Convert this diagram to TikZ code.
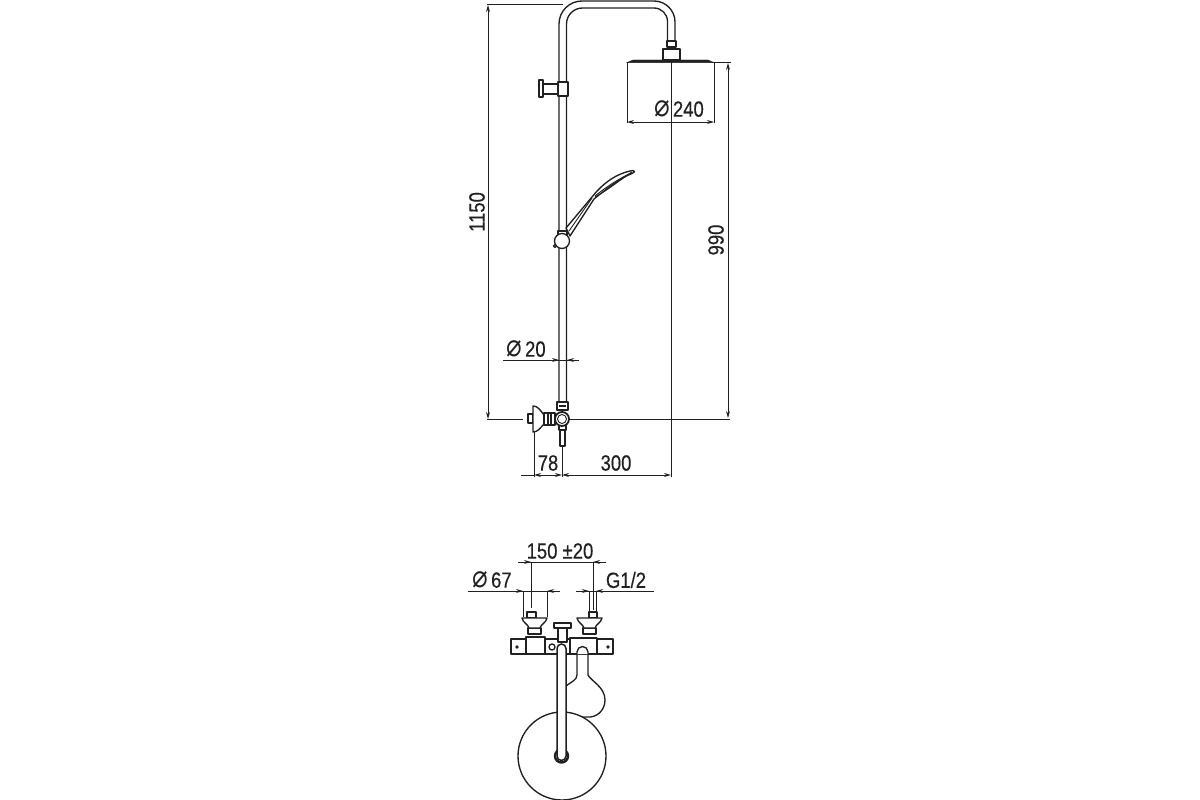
\documentclass[tikz,border=0pt]{standalone}
\usepackage{fontspec}
\setmainfont{Liberation Sans}
\newfontfamily\symfont{DejaVu Sans}
\newfontfamily\labfont{Liberation Sans}[FakeBold=0.35]
\usetikzlibrary{arrows.meta}
\definecolor{ink}{gray}{0.13}
\newcommand{\dia}{{\symfont\fontsize{31}{31}\selectfont ⌀}}
\tikzset{
  part/.style={draw=ink,line width=1.35pt,line join=round,fill=white},
  open/.style={draw=ink,line width=1.35pt,line join=round},
  dim/.style={draw=ink,line width=1pt},
  tip/.style={-{Stealth[length=7pt,width=4pt]}},
  arr/.style={dim,{Stealth[length=7pt,width=4pt]}-{Stealth[length=7pt,width=4pt]}},
  lab/.style={text=ink,font=\labfont\fontsize{22}{22}\selectfont,xscale=.84,inner sep=0pt,anchor=center},
  rlab/.style={text=ink,font=\labfont\fontsize{22}{22}\selectfont,yscale=.84,inner sep=0pt,rotate=90,anchor=center}
}
\begin{document}
\begin{tikzpicture}[x=1pt,y=-1pt]
\useasboundingbox (0,0) rectangle (1200,800);
\fill[white] (0,0) rectangle (1200,800);
% ---- dimension lines, upper view
\draw[dim] (487,5) -- (563,5);
\draw[arr] (488,5) -- (488,419);
\draw[dim] (487,419) -- (523,419);
\draw[dim] (570,419) -- (730,419);
\draw[dim] (714,63) -- (731,63);
\draw[arr] (728,63) -- (728,418);
\draw[dim] (671,62) -- (671,477);
\draw[dim] (627,63) -- (627,123);
\draw[dim] (714,63) -- (714,123);
\draw[arr] (627,122) -- (714,122);
\draw[dim] (503,360) -- (579,360);
\draw[dim,tip] (548,360) -- (559,360);
\draw[dim,tip] (578,360) -- (567,360);
\draw[dim] (534,432) -- (534,477);
\draw[dim] (562,446) -- (562,477);
\draw[dim] (521,475) -- (534,475);
\draw[arr] (534,475) -- (562,475);
\draw[arr] (562,475) -- (671,475);
% ---- column
\draw[open] (559,402) -- (559,24) arc[start angle=180,end angle=270,radius=23] -- (654,1) arc[start angle=270,end angle=360,radius=21] -- (675,41);
\draw[open] (566.5,402) -- (566.5,24) arc[start angle=180,end angle=270,radius=16] -- (654,8) arc[start angle=270,end angle=360,radius=13.5] -- (667.5,41);
% ---- overhead shower
\draw[part] (667,41) rectangle (676,47);
\draw[part] (663,49) rectangle (680,60);
\draw[draw=ink,fill=ink] (633,60) -- (708,60) -- (714,62.6) -- (627,62.6) -- cycle;
% ---- wall bracket with knob
\draw[part] (543,84) rectangle (558,94);
\draw[part] (539,80) rectangle (543,97);
\draw[part] (558,82) rectangle (568,96);
% ---- hand shower on the column
\draw[part] (566,228) -- (592,197) .. controls (603,183) and (617,173) .. (633,170.5) .. controls (635,171) and (635,172) .. (633,173) .. controls (620,178) and (605,190) .. (594,199) -- (570,236) -- cycle;
\draw[open,line width=.9pt] (569,231) -- (592,198);
\draw[open,line width=.9pt] (595,197) .. controls (608,190) and (620,180) .. (632,172);
\draw[open,line width=.9pt] (595,196) .. controls (606,187) and (620,178) .. (632,172.5);
\draw[part] (558,231) rectangle (567,236);
\draw[part] (562,241) circle[radius=7.5];
\draw[part] (555,246) circle[radius=1.5];
% ---- mixer, side view
\draw[part] (528,414) rectangle (533,423);
\draw[part] (533,406) .. controls (538,406) and (540,410) .. (544,415) -- (544,424) .. controls (540,428) and (538,432) .. (533,432) -- cycle;
\draw[part] (544,413) rectangle (555,425);
\draw[open] (548,413) -- (548,425) (551,413) -- (551,425);
\draw[part] (557,402) rectangle (568,410);
\draw[open] (559,406) -- (566,406);
\draw[part] (559,425) rectangle (566,430);
\draw[part] (560,430) rectangle (565,446);
\draw[part,line width=1.8pt] (562,419) circle[radius=7];
\draw[open,line width=.9pt] (562,419) circle[radius=4.5];
% ---- dimension lines, lower view
\draw[dim] (518,562) -- (606,562);
\draw[dim,tip] (519,562) -- (531,562);
\draw[dim,tip] (605,562) -- (593,562);
\draw[dim] (531,562) -- (531,608);
\draw[dim] (593,562) -- (593,610);
\draw[dim] (468,591) -- (560,591);
\draw[dim,tip] (513,591) -- (523,591);
\draw[dim,tip] (557,591) -- (547,591);
\draw[dim] (523,591) -- (523,617);
\draw[dim] (547,591) -- (547,617);
\draw[dim] (576,591) -- (654,591);
\draw[dim,tip] (579,591) -- (589,591);
\draw[dim,tip] (606,591) -- (596,591);
\draw[dim] (589,591) -- (589,613);
\draw[dim] (596,591) -- (596,613);
% ---- bulb of the hand shower, behind
\draw[part] (577,654) -- (577,652) arc[start angle=180,end angle=360,radius=5.5] -- (588,675) .. controls (591,681) and (605,687) .. (605,700) .. controls (605,711) and (596,718) .. (587,717) -- (566,717) -- (566,686) .. controls (571,682) and (577,680) .. (577,675) -- cycle;
% ---- rosette
\draw[part] (562,756) circle[radius=44];
% ---- valve block
\draw[part] (511,639) rectangle (526,654);
\draw[part] (526,637) rectangle (545,654);
\draw[part] (545,639) rectangle (570,654);
\draw[part] (570,638) rectangle (597,654);
\draw[part] (597,639) rectangle (613,654);
\fill[ink] (517,647) circle[radius=1.8] (608,647) circle[radius=1.8];
\draw[open] (552,647) circle[radius=3];
% ---- hand-shower neck over the block
\draw[part] (577,654) -- (577,652) arc[start angle=180,end angle=360,radius=5.5] -- (588,654);
% ---- left and right valves
\draw[part] (528,628) rectangle (541,634);
\draw[part] (527,612) rectangle (536,618);
\draw[part] (522,618) -- (547,618) .. controls (546,623) and (541,624) .. (540,628) -- (529,628) .. controls (528,624) and (523,623) .. (522,618) -- cycle;
\draw[part] (583,628) rectangle (596,634);
\draw[part] (589,612) rectangle (597,618);
\draw[part] (577,618) -- (602,618) .. controls (601,623) and (596,624) .. (595,628) -- (584,628) .. controls (583,624) and (578,623) .. (577,618) -- cycle;
% ---- central knob and column
\draw[part] (558,628) rectangle (567,642);
\draw[part] (554,623) rectangle (571,628);
\draw[draw=ink,line width=2.4pt,fill=white] (561.5,756) circle[radius=6.5];
\draw[draw=ink,line width=1.5pt,fill=white] (557,756) -- (557,648.5) arc[start angle=180,end angle=360,radius=4.5] -- (566,756) arc[start angle=0,end angle=180,radius=4.5] -- cycle;
% ---- texts
\node[rlab] (t1150) at (477,212) {1150};
\node[rlab] (t990) at (716,240) {990};
\node[lab] (t240) at (679,109) {\dia\,240};
\node[lab] (t20) at (526,349) {\dia\,20};
\node[lab] (t78) at (548,463) {78};
\node[lab] (t300) at (616,463) {300};
\node[lab] (t150) at (560,551) {150 ±20};
\node[lab] (t67) at (492,580) {\dia\,67};
\node[lab] (tg) at (626,580) {G1/2};
\end{tikzpicture}
\end{document}
